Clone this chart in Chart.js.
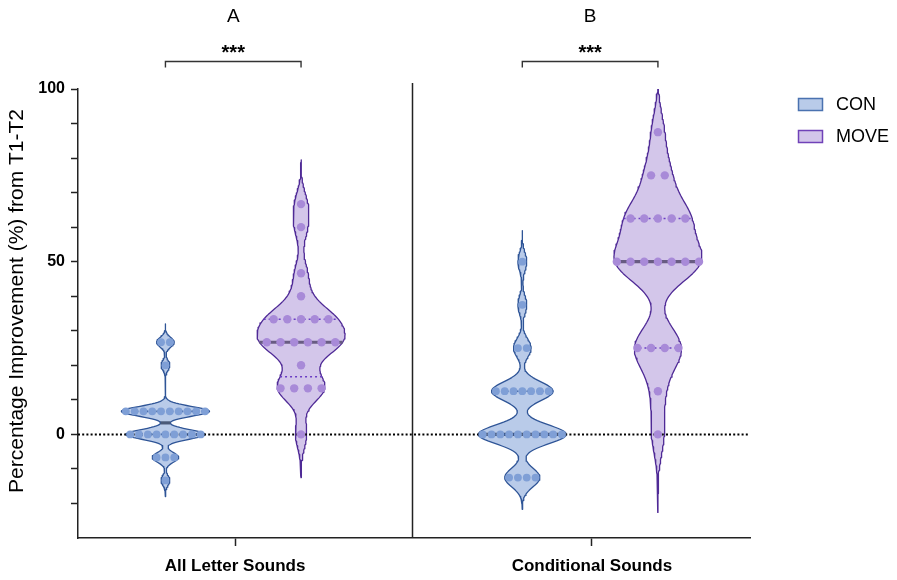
<!DOCTYPE html>
<html>
<head>
<meta charset="utf-8">
<script src="https://cdn.jsdelivr.net/npm/chart.js@4.4.1/dist/chart.umd.min.js"></script>
<style>
  html, body { margin: 0; padding: 0; background: #ffffff; }
  #wrap { width: 897px; height: 580px; position: relative; }
</style>
</head>
<body>
<div id="wrap"><canvas id="c" width="897" height="580"></canvas></div>
<script>
// ---------------- data ----------------
const categories = ['All Letter Sounds', 'Conditional Sounds'];
const panelLabels = ['A', 'B'];
const significance = ['***', '***'];
const seriesNames = ['CON', 'MOVE'];
const yTitle = 'Percentage Improvement (%) from T1-T2';

// individual points
const conAllLetter = [26.67, 26.67, 20,
  6.67, 6.67, 6.67, 6.67, 6.67, 6.67, 6.67, 6.67, 6.67, 6.67,
  0, 0, 0, 0, 0, 0, 0, 0, 0,
  -6.67, -6.67, -6.67, -13.33];
const moveAllLetter = [66.67, 60, 46.67, 40,
  33.33, 33.33, 33.33, 33.33, 33.33,
  26.67, 26.67, 26.67, 26.67, 26.67, 26.67,
  20, 13.33, 13.33, 13.33, 13.33, 0];
const conConditional = [50, 37.5, 25, 25,
  12.5, 12.5, 12.5, 12.5, 12.5, 12.5, 12.5,
  0, 0, 0, 0, 0, 0, 0, 0, 0, 0,
  -12.5, -12.5, -12.5, -12.5];
const moveConditional = [87.5, 75, 75,
  62.5, 62.5, 62.5, 62.5, 62.5,
  50, 50, 50, 50, 50, 50, 50,
  25, 25, 25, 25, 12.5, 0];

// medians and quartiles
const conMedian = [3.33, 0];
const moveMedian = [26.67, 50];
const conQ1 = [0, 0];
const conQ3 = [6.67, 12.5];
const moveQ1 = [16.67, 25];
const moveQ3 = [33.33, 62.5];

// violin extents (tails) and smoothing
const conLow = [-18, -21.7];
const conHigh = [32, 59];
const moveLow = [-12.5, -22.6];
const moveHigh = [79.5, 112];
const conBandwidth = [1.4, 2.7];
const moveBandwidth = [4.0, 6.0];

const yMin = -30, yMax = 100, yStep = 10, yLabelEvery = 50;

// ---------------- layout / style ----------------
const FONT = "'Liberation Sans', Arial, Helvetica, sans-serif";
const X_MIN = 0.56, X_MAX = 2.443;
const AREA_W = 897 - 147 - 78;
const UNIT_PER_PX = (X_MAX - X_MIN) / AREA_W;
const HALF_W = 44 * UNIT_PER_PX;

const series = [
  { name: seriesNames[0], values: [conAllLetter, conConditional], median: conMedian, q1: conQ1, q3: conQ3,
    low: conLow, high: conHigh, bw: conBandwidth, offset: -0.195,
    fill: '#b9cbe9', line: '#2f5597', dot: '#7f9fd6', med: '#4b5a78', quart: '#2f5597',
    dotGap: 8.8, dotR: 3.9, legendBorder: '#4a72b0' },
  { name: seriesNames[1], values: [moveAllLetter, moveConditional], median: moveMedian, q1: moveQ1, q3: moveQ3,
    low: moveLow, high: moveHigh, bw: moveBandwidth, offset: 0.185,
    fill: '#d3c6ea', line: '#4f2a96', dot: '#a88ad8', med: '#685c82', quart: '#6a3cc4',
    dotGap: 13.7, dotR: 4.2, legendBorder: '#7042b8' }
];

function kde(values, h, y) {
  let s = 0;
  for (const v of values) { const d = (y - v) / h; s += Math.exp(-0.5 * d * d); }
  return s;
}

const datasets = [];
series.forEach((s) => {
  categories.forEach((cat, ci) => {
    const vals = s.values[ci];
    const h = s.bw[ci];
    const c = ci + 1 + s.offset;
    const lo = s.low[ci], hi = s.high[ci];
    const N = 220;
    const ys = [], ds = [];
    for (let i = 0; i <= N; i++) { const y = lo + (hi - lo) * i / N; ys.push(y); ds.push(kde(vals, h, y)); }
    const dmax = Math.max(...ds);
    const w = (y) => kde(vals, h, y) / dmax * HALF_W;
    const outline = [];
    for (let i = 0; i <= N; i++) outline.push({ x: c + ds[i] / dmax * HALF_W, y: ys[i] });
    for (let i = N; i >= 0; i--) outline.push({ x: c - ds[i] / dmax * HALF_W, y: ys[i] });
    datasets.push({
      label: s.name, data: outline, showLine: true, fill: 'shape',
      backgroundColor: s.fill, borderColor: s.line, borderWidth: 1.3,
      borderJoinStyle: 'round', borderCapStyle: 'round',
      pointRadius: 0, order: 5
    });
    // median (thick) and quartiles (dotted)
    const m = s.median[ci];
    datasets.push({
      label: s.name + ' median', data: [{ x: c - w(m), y: m }, { x: c + w(m), y: m }], showLine: true,
      borderColor: s.med, borderWidth: 3.2, pointRadius: 0, fill: false, order: 3
    });
    [s.q1[ci], s.q3[ci]].forEach((q) => {
      datasets.push({
        label: s.name + ' quartile', data: [{ x: c - w(q), y: q }, { x: c + w(q), y: q }], showLine: true,
        borderColor: s.quart, borderWidth: 1.6, borderDash: [2, 3], pointRadius: 0, fill: false, order: 2
      });
    });
    // dots spread horizontally per row of equal values
    const rows = new Map();
    vals.forEach(v => { const k = v.toFixed(2); rows.set(k, (rows.get(k) || 0) + 1); });
    const pts = [];
    rows.forEach((count, key) => {
      const v = parseFloat(key);
      for (let j = 0; j < count; j++) pts.push({ x: c + (j - (count - 1) / 2) * s.dotGap * UNIT_PER_PX, y: v });
    });
    datasets.push({
      label: s.name + ' points', data: pts, showLine: false,
      pointRadius: s.dotR, pointBackgroundColor: s.dot, pointBorderWidth: 0, pointBorderColor: s.dot, order: 1
    });
  });
});
// zero reference line
datasets.push({
  label: 'zero', data: [{ x: X_MIN, y: 0 }, { x: X_MAX, y: 0 }], showLine: true,
  borderColor: '#000', borderWidth: 2, borderDash: [2, 2.2], pointRadius: 0, fill: false, order: 4
});

const annotations = {
  id: 'annotations',
  afterDraw(chart) {
    const { ctx, chartArea, scales } = chart;
    const x = scales.x;
    ctx.save();
    ctx.strokeStyle = '#222';
    ctx.lineWidth = 1.5;
    // divider between the two groups
    const xd = Math.round(x.getPixelForValue(1.495)) + 0.5;
    ctx.beginPath(); ctx.moveTo(xd, chartArea.top - 6); ctx.lineTo(xd, chartArea.bottom); ctx.stroke();
    categories.forEach((cat, i) => {
      const x1 = x.getPixelForValue(i + 1 + series[0].offset);
      const x2 = x.getPixelForValue(i + 1 + series[1].offset);
      const mid = (x1 + x2) / 2;
      const by = Math.round(chartArea.top - 28) + 0.5;
      ctx.strokeStyle = '#333';
      ctx.lineWidth = 1.4;
      ctx.beginPath(); ctx.moveTo(x1, by + 6); ctx.lineTo(x1, by); ctx.lineTo(x2, by); ctx.lineTo(x2, by + 6); ctx.stroke();
      ctx.fillStyle = '#000';
      ctx.textAlign = 'center';
      ctx.textBaseline = 'alphabetic';
      ctx.font = 'bold 20px ' + FONT;
      ctx.fillText(significance[i], mid, chartArea.top - 30);
      ctx.font = '19px ' + FONT;
      ctx.fillText(panelLabels[i], mid, 22);
    });
    // y-axis title
    ctx.save();
    ctx.translate(17, 301);
    ctx.rotate(-Math.PI / 2);
    ctx.fillStyle = '#000';
    ctx.font = '21px ' + FONT;
    ctx.textAlign = 'center';
    ctx.textBaseline = 'middle';
    ctx.fillText(yTitle, 0, 0);
    ctx.restore();
    // legend
    series.forEach((s, i) => {
      const ly = 98 + i * 32;
      ctx.fillStyle = s.fill;
      ctx.fillRect(798, ly, 25, 13);
      ctx.strokeStyle = s.legendBorder;
      ctx.lineWidth = 1.5;
      ctx.strokeRect(798.5, ly + 0.5, 24, 12);
      ctx.fillStyle = '#000';
      ctx.font = '18px ' + FONT;
      ctx.textAlign = 'left';
      ctx.textBaseline = 'middle';
      ctx.fillText(s.name, 836, ly + 7);
    });
    ctx.restore();
  }
};

new Chart(document.getElementById('c'), {
  type: 'scatter',
  data: { datasets },
  options: {
    responsive: false,
    animation: false,
    events: [],
    layout: { padding: { left: 0, right: 147, top: 89, bottom: 0 } },
    plugins: { legend: { display: false }, tooltip: { enabled: false } },
    scales: {
      x: {
        type: 'linear', min: X_MIN, max: X_MAX,
        afterBuildTicks: (s) => { s.ticks = categories.map((c, i) => ({ value: i + 1 })); },
        afterFit: (s) => { s.height = 42; },
        ticks: {
          autoSkip: false, maxRotation: 0, padding: 10, color: '#000',
          font: { family: FONT, size: 17, weight: 'bold' },
          callback: (v) => categories[Math.round(v) - 1] || ''
        },
        grid: { display: true, drawOnChartArea: false, drawTicks: true, tickLength: 8, tickColor: '#222', tickWidth: 1.5 },
        border: { display: true, color: '#222', width: 1.5 }
      },
      y: {
        type: 'linear', min: yMin, max: yMax,
        afterBuildTicks: (s) => { s.ticks = s.ticks.filter(t => t.value > yMin); },
        afterFit: (s) => { s.width = 78; },
        ticks: {
          stepSize: yStep, autoSkip: false, padding: 6, color: '#000',
          font: { family: FONT, size: 16, weight: 'bold' },
          callback: (v) => (Math.abs(v % yLabelEvery) < 1e-6 ? String(v) : '')
        },
        grid: { display: true, drawOnChartArea: false, drawTicks: true, tickLength: 7, tickColor: '#222', tickWidth: 1.5 },
        border: { display: true, color: '#222', width: 1.5 },
        title: { display: false }
      }
    }
  },
  plugins: [annotations]
});
</script>
</body>
</html>
